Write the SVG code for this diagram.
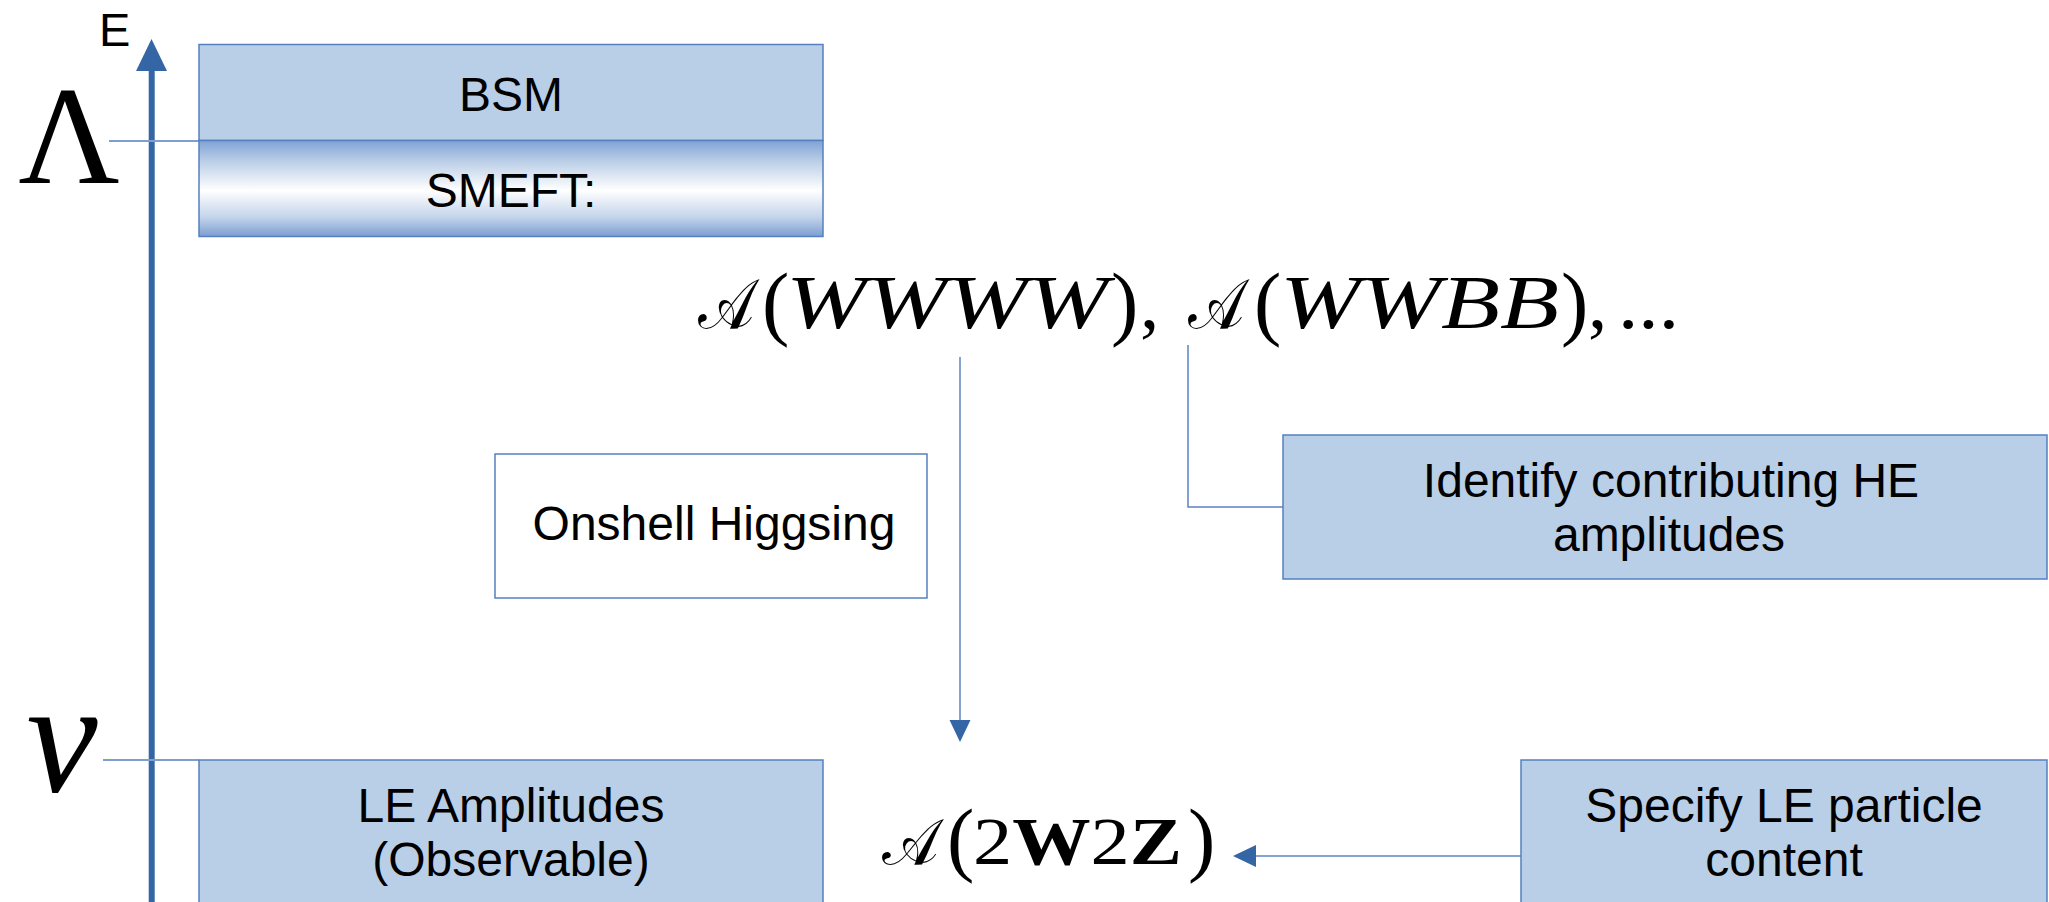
<svg xmlns="http://www.w3.org/2000/svg" width="2049" height="902" viewBox="0 0 2049 902">
  <defs>
    <linearGradient id="smeftFill" x1="0" y1="0" x2="0" y2="1">
      <stop offset="0" stop-color="#7fa3d5"/>
      <stop offset="0.22" stop-color="#bccfe7"/>
      <stop offset="0.52" stop-color="#ffffff"/>
      <stop offset="0.8" stop-color="#c3d4ea"/>
      <stop offset="1" stop-color="#7b9ed2"/>
    </linearGradient>
  </defs>
  <style>
    .box { fill: #b9cfe7; stroke: #5580c0; stroke-width: 1.5; }
    .plain { fill: #ffffff; stroke: #5580c0; stroke-width: 1.5; }
    .lbl { font-family: "Liberation Sans", Arial, sans-serif; font-size: 48px; fill: #000; text-anchor: middle; }
    .math { font-family: "Liberation Serif", "DejaVu Serif", serif; fill: #000; }
    .it { font-style: italic; }
    .conn { stroke: #5b84c2; stroke-width: 1.5; fill: none; }
    .tick { stroke: #7c9fd0; stroke-width: 2; }
    .head { fill: #3465a4; }
  </style>
  <rect width="2049" height="902" fill="#ffffff"/>

  <!-- energy axis -->
  <g id="axis">
    <line x1="151.7" y1="68" x2="151.7" y2="902" stroke="#3465a4" stroke-width="6"/>
    <polygon class="head" points="151.5,39 136,71 167,71"/>
    <text x="99" y="46" font-family="Liberation Sans, Arial, sans-serif" font-size="47">E</text>
    <line class="tick" x1="109" y1="141" x2="199" y2="141"/>
    <line class="tick" x1="103" y1="760" x2="199" y2="760"/>
    <text class="math" x="69" y="183" font-size="140" text-anchor="middle">Λ</text>
    <text class="math it" x="62" y="791" font-size="160" text-anchor="middle">v</text>
  </g>

  <!-- connectors -->
  <g id="connectors">
    <line class="conn" x1="960" y1="357" x2="960" y2="722"/>
    <polygon class="head" points="949.5,720 970.5,720 960,742"/>
    <polyline class="conn" points="1188,345 1188,507 1283,507"/>
    <line class="conn" x1="1521" y1="856" x2="1254" y2="856"/>
    <polygon class="head" points="1233,856 1256,845 1256,867"/>
  </g>

  <g id="bsm">
    <rect class="box" x="199" y="44.5" width="624" height="96"/>
    <text class="lbl" x="511" y="110.5">BSM</text>
  </g>

  <g id="smeft">
    <rect x="199" y="140.5" width="624" height="96" fill="url(#smeftFill)" stroke="#5580c0" stroke-width="1.5"/>
    <text class="lbl" x="511" y="207">SMEFT:</text>
  </g>

  <!-- high-energy amplitudes: A(WWWW), A(WWBB), ... -->
  <g id="he-amplitudes" class="math">
    <text x="698" y="328" font-size="70" textLength="56" lengthAdjust="spacingAndGlyphs">𝒜</text>
    <text x="762" y="330" font-size="82">(</text>
    <text class="it" x="786" y="328" font-size="77" textLength="322" lengthAdjust="spacingAndGlyphs">WWWW</text>
    <text x="1111" y="330" font-size="82">)</text>
    <text x="1140" y="328" font-size="77">,</text>
    <text x="1188" y="328" font-size="70" textLength="56" lengthAdjust="spacingAndGlyphs">𝒜</text>
    <text x="1254" y="330" font-size="82">(</text>
    <text class="it" x="1280" y="328" font-size="77" textLength="279" lengthAdjust="spacingAndGlyphs">WWBB</text>
    <text x="1561" y="330" font-size="82">)</text>
    <text x="1588" y="328" font-size="77">,</text>
    <text x="1618" y="328" font-size="77" textLength="61" lengthAdjust="spacingAndGlyphs">...</text>
  </g>

  <g id="onshell-higgsing">
    <rect class="plain" x="495" y="454" width="432" height="144"/>
    <text class="lbl" x="714" y="540">Onshell Higgsing</text>
  </g>

  <g id="identify">
    <rect class="box" x="1283" y="435" width="764" height="144"/>
    <text class="lbl" x="1671" y="497">Identify contributing HE</text>
    <text class="lbl" x="1669" y="551">amplitudes</text>
  </g>

  <g id="le-amplitudes">
    <rect class="box" x="199" y="760" width="624" height="150"/>
    <text class="lbl" x="511" y="822">LE Amplitudes</text>
    <text class="lbl" x="511" y="876">(Observable)</text>
  </g>

  <!-- low-energy amplitude: A(2W2Z) -->
  <g id="le-result" class="math">
    <text x="882" y="864" font-size="64" textLength="57" lengthAdjust="spacingAndGlyphs">𝒜</text>
    <text x="947" y="866" font-size="82">(</text>
    <text x="973" y="864" font-size="68" textLength="209" lengthAdjust="spacingAndGlyphs">2<tspan font-weight="bold">W</tspan>2<tspan font-weight="bold">Z</tspan></text>
    <text x="1188" y="866" font-size="82">)</text>
  </g>

  <g id="specify">
    <rect class="box" x="1521" y="760" width="526" height="150"/>
    <text class="lbl" x="1784" y="822">Specify LE particle</text>
    <text class="lbl" x="1784" y="876">content</text>
  </g>
</svg>
